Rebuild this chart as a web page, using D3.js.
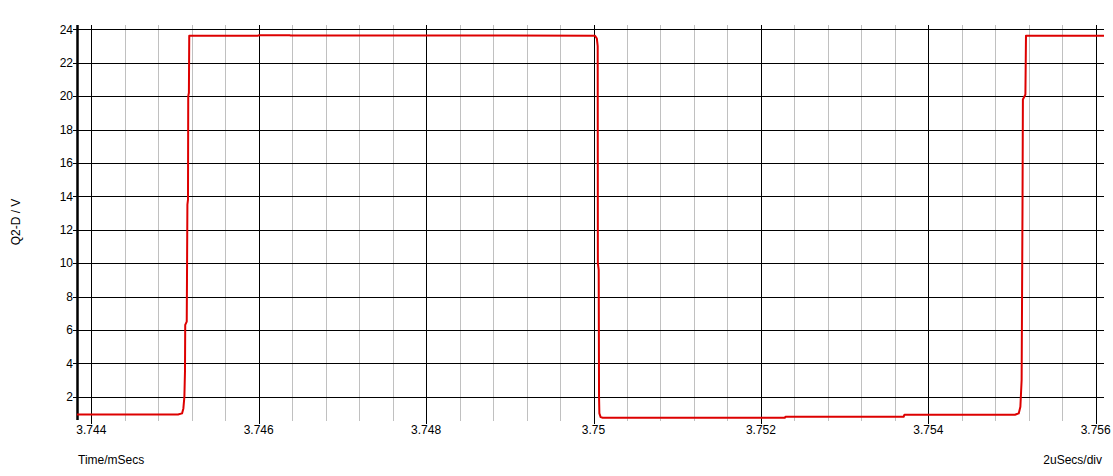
<!DOCTYPE html>
<html>
<head>
<meta charset="utf-8">
<script src="https://cdn.jsdelivr.net/npm/d3@7"></script>
<style>
  html, body { margin: 0; padding: 0; background: #ffffff; }
  svg { display: block; font-family: "Liberation Sans", Arial, sans-serif; }
</style>
</head>
<body>
<svg id="chart" width="1113" height="476"></svg>
<script>
// ---- data ----
const yTicks = [2, 4, 6, 8, 10, 12, 14, 16, 18, 20, 22, 24];
const xMajorTicks = [3.744, 3.746, 3.748, 3.75, 3.752, 3.754, 3.756];
const xTickLabels = ["3.744", "3.746", "3.748", "3.75", "3.752", "3.754", "3.756"];
const timeMs = [
  3.743829, 3.744500, 3.745036, 3.745084, 3.745100, 3.745112, 3.745119, 3.745122,
  3.745140, 3.745143, 3.745148, 3.745155, 3.745158, 3.745166, 3.745170,
  3.745900, 3.745992, 3.746000, 3.746370, 3.746380, 3.748000, 3.750018,
  3.750040, 3.750050, 3.750052, 3.750062, 3.750066, 3.750070, 3.750085, 3.750110,
  3.752285, 3.752295, 3.753705, 3.753715, 3.755035, 3.755080, 3.755100,
  3.755115, 3.755120, 3.755125, 3.755130, 3.755160, 3.755167, 3.756099
];
const voltage = [
  0.93, 0.93, 0.93, 1.0, 1.3, 2.0, 3.5, 6.3,
  6.5, 9.0, 13.5, 13.8, 20.0, 20.2, 23.62,
  23.62, 23.62, 23.645, 23.645, 23.63, 23.63, 23.62,
  23.45, 23.0, 10.0, 9.6, 2.0, 1.0, 0.78, 0.74,
  0.74, 0.8, 0.8, 0.92, 0.92, 1.0, 1.4,
  3.0, 8.0, 13.0, 19.8, 20.1, 23.62, 23.62
];
const yTitle = "Q2-D / V";
const xTitle = "Time/mSecs";
const xScaleNote = "2uSecs/div";

// ---- layout ----
const pLeft = 77, pRight = 1104, pTop = 25, pBottom = 420;
const svg = d3.select("#chart");

const x = d3.scaleLinear().domain([3.743829, 3.756099]).range([pLeft, pRight]);
const y = d3.scaleLinear().domain([0.605, 24.26]).range([pBottom, pTop]);

// minor vertical grid (0.4 us)
const minorTicks = [];
for (let i = 0; i < xMajorTicks.length - 1; i++) {
  for (let k = 1; k < 5; k++) minorTicks.push(xMajorTicks[i] + k * 0.0004);
}
minorTicks.push(3.7436);
minorTicks.push(xMajorTicks[xMajorTicks.length-1] + 0.0004);

svg.append("g").selectAll("line").data(minorTicks.filter(t => x(t) > pLeft && x(t) < pRight))
  .join("line")
  .attr("x1", d => Math.round(x(d)) + 0.5).attr("x2", d => Math.round(x(d)) + 0.5)
  .attr("y1", pTop).attr("y2", pBottom + 1)
  .attr("stroke", "#c0c0c0").attr("stroke-width", 1);

// major vertical grid
svg.append("g").selectAll("line").data(xMajorTicks)
  .join("line")
  .attr("x1", d => Math.round(x(d)) + 0.5).attr("x2", d => Math.round(x(d)) + 0.5)
  .attr("y1", pTop).attr("y2", pBottom + 4)
  .attr("stroke", "#000").attr("stroke-width", 1);

// horizontal grid
svg.append("g").selectAll("line").data(yTicks)
  .join("line")
  .attr("x1", pLeft - 4).attr("x2", pRight)
  .attr("y1", d => Math.round(y(d)) + 0.5).attr("y2", d => Math.round(y(d)) + 0.5)
  .attr("stroke", "#000").attr("stroke-width", 1);

// y axis line
svg.append("line")
  .attr("x1", pLeft + 0.5).attr("x2", pLeft + 0.5)
  .attr("y1", pTop).attr("y2", pBottom)
  .attr("stroke", "#000").attr("stroke-width", 2.5);

// y tick labels
svg.append("g").selectAll("text").data(yTicks)
  .join("text")
  .attr("x", 73).attr("y", d => y(d))
  .attr("dy", "0.36em")
  .attr("text-anchor", "end")
  .attr("font-size", 12).attr("fill", "#000")
  .text(d => d);

// x tick labels
svg.append("g").selectAll("text").data(xMajorTicks)
  .join("text")
  .attr("x", d => x(d)).attr("y", 434)
  .attr("text-anchor", "middle")
  .attr("font-size", 12).attr("fill", "#000")
  .text((d, i) => xTickLabels[i]);

// titles
svg.append("text")
  .attr("transform", "translate(20,222) rotate(-90)")
  .attr("text-anchor", "middle")
  .attr("font-size", 12).attr("fill", "#000")
  .text(yTitle);
svg.append("text")
  .attr("x", 78).attr("y", 464)
  .attr("font-size", 12).attr("fill", "#000")
  .text(xTitle);
svg.append("text")
  .attr("x", 1102).attr("y", 464)
  .attr("text-anchor", "end")
  .attr("font-size", 12).attr("fill", "#000")
  .text(xScaleNote);

// waveform
svg.append("clipPath").attr("id", "clip")
  .append("rect").attr("x", pLeft).attr("y", pTop - 2).attr("width", pRight - pLeft).attr("height", pBottom - pTop + 4);

const pts = timeMs.map((t, i) => [t, voltage[i]]);
const line = d3.line().x(d => x(d[0])).y(d => y(d[1]));
svg.append("path")
  .datum(pts)
  .attr("clip-path", "url(#clip)")
  .attr("d", line)
  .attr("fill", "none")
  .attr("stroke", "#dd0000")
  .attr("stroke-width", 2)
  .attr("stroke-linejoin", "round");
</script>
</body>
</html>
